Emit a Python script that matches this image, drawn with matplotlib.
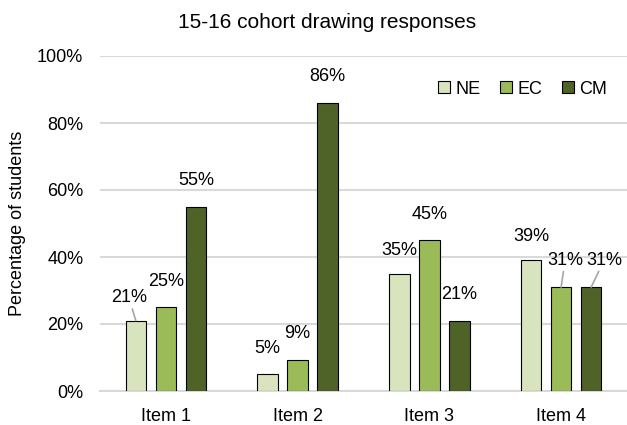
import matplotlib
matplotlib.use('Agg')
import matplotlib.pyplot as plt
import numpy as np

plt.rcParams['font.family'] = ['Liberation Sans', 'DejaVu Sans']

items = ['Item 1', 'Item 2', 'Item 3', 'Item 4']
series = ['NE', 'EC', 'CM']
ne = [21, 5, 35, 39]
ec = [25, 9.4, 45, 31]
cm = [55, 86, 21, 31]
colors = ['#d7e4bd', '#9bbb59', '#4f6228']

# label offsets in pixels (dx, dy, leader line) where they differ from default
label_tweaks = {
    (0, 0): (-7, 23, True),
    (2, 0): (0, 23, False),
    (3, 0): (0, 24, False),
    (3, 1): (4, 27, True),
    (3, 2): (13, 27, True),
}


def main():
    fig = plt.figure(figsize=(6.27, 4.25), dpi=100)
    ax = fig.add_axes([100 / 627, 34 / 425, 527 / 627, 335 / 425])

    x = np.arange(len(items))
    width = 0.155
    step = 0.228
    for j, vals in enumerate([ne, ec, cm]):
        pos = x + (j - 1) * step
        ax.bar(pos, vals, width, color=colors[j], edgecolor='black',
               linewidth=0.8, label=series[j], zorder=3)
        for i, v in enumerate(vals):
            dx, dy, leader = label_tweaks.get((i, j), (0, 26, False))
            props = None
            if leader:
                props = dict(arrowstyle='-', color='#a6a6a6', lw=1.2,
                             shrinkA=0, shrinkB=0)
            ax.annotate('%.0f%%' % v, xy=(pos[i], v), xytext=(dx, dy),
                        textcoords='offset pixels', ha='center', va='center',
                        fontsize=13, arrowprops=props, zorder=4)

    ax.set_xlim(-0.5, 3.5)
    ax.set_ylim(0, 100)
    ax.set_yticks(range(0, 101, 20))
    ax.set_yticklabels(['%d%%' % t for t in range(0, 101, 20)])
    ax.set_xticks(x)
    ax.set_xticklabels(items)
    ax.tick_params(length=0, labelsize=13, pad=12)
    ax.yaxis.grid(True, color='#d9d9d9', linewidth=1.5, zorder=0)
    for s in ['top', 'right', 'left']:
        ax.spines[s].set_visible(False)
    ax.spines['bottom'].set_color('#d9d9d9')
    ax.spines['bottom'].set_linewidth(1.5)
    ax.set_axisbelow(True)

    fig.text(18 / 627, 1 - 223 / 425, 'Percentage of students', rotation=90,
             ha='center', va='center', fontsize=13)
    fig.text(0.522, 1 - 22 / 425, '15-16 cohort drawing responses',
             ha='center', va='center', fontsize=15)

    ax.legend(loc='center left', bbox_to_anchor=(438 / 627, 1 - 89 / 425),
              bbox_transform=fig.transFigure, ncol=3, frameon=False,
              fontsize=13, handlelength=0.67, handleheight=0.67,
              handletextpad=0.28, columnspacing=1.1, borderpad=0,
              borderaxespad=0)

    fig.savefig('out.png', dpi=100)


if __name__ == '__main__':
    main()
